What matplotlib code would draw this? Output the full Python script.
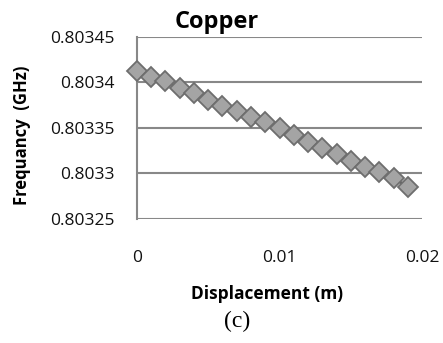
import matplotlib.pyplot as plt

# displacement (m) and resonant frequency (GHz)
displacement = [0.000, 0.001, 0.002, 0.003, 0.004, 0.005, 0.006, 0.007, 0.008, 0.009,
                0.010, 0.011, 0.012, 0.013, 0.014, 0.015, 0.016, 0.017, 0.018, 0.019]
frequency = [0.803412, 0.803406, 0.803401, 0.803394, 0.803388, 0.803381, 0.803374,
             0.803368, 0.803362, 0.803356, 0.803350, 0.803342, 0.803334, 0.803328,
             0.803321, 0.803314, 0.803307, 0.803302, 0.803295, 0.803285]
y_ticks = [0.80325, 0.8033, 0.80335, 0.8034, 0.80345]
y_tick_labels = ['0.80325', '0.8033', '0.80335', '0.8034', '0.80345']
x_ticks = [0, 0.01, 0.02]
x_tick_labels = ['0', '0.01', '0.02']

plt.rcParams['font.family'] = ['Open Sans', 'DejaVu Sans']

fig = plt.figure(figsize=(4.43, 3.43), dpi=100)
ax = fig.add_axes([0.309, 0.3615, 0.644, 0.5315])

ax.plot(displacement, frequency, color='#555555', linewidth=2,
        marker='D', markersize=10.5, markerfacecolor='#a4a4a4',
        markeredgecolor='#6e6e6e', markeredgewidth=1.3, zorder=3, clip_on=False)

ax.set_xlim(0, 0.02)
ax.set_ylim(0.80325, 0.80345)
ax.set_yticks(y_ticks)
ax.set_yticklabels(y_tick_labels)
ax.set_xticks(x_ticks)
ax.set_xticklabels(x_tick_labels)
ax.tick_params(axis='both', length=0, labelsize=12.5, colors='#111111')
ax.tick_params(axis='y', pad=16)
ax.tick_params(axis='x', pad=22)

ax.grid(axis='y', color='#888888', linewidth=1.5)
ax.set_axisbelow(True)
for side in ['top', 'right', 'bottom']:
    ax.spines[side].set_visible(False)
ax.spines['left'].set_color('#888888')
ax.spines['left'].set_linewidth(1.5)

fig.text(0.49, 0.935, 'Copper', fontsize=17, fontweight='bold', ha='center', va='center')
fig.text(0.05, 0.605, 'Frequancy  (GHz)', fontsize=12, fontweight='bold',
         rotation=90, ha='center', va='center')
fig.text(0.603, 0.143, 'Displacement (m)', fontsize=12.5, fontweight='bold',
         ha='center', va='center')
fig.text(0.535, 0.063, '(c)', fontsize=17, family='Liberation Serif',
         ha='center', va='center')

fig.savefig('out.png', dpi=100)
